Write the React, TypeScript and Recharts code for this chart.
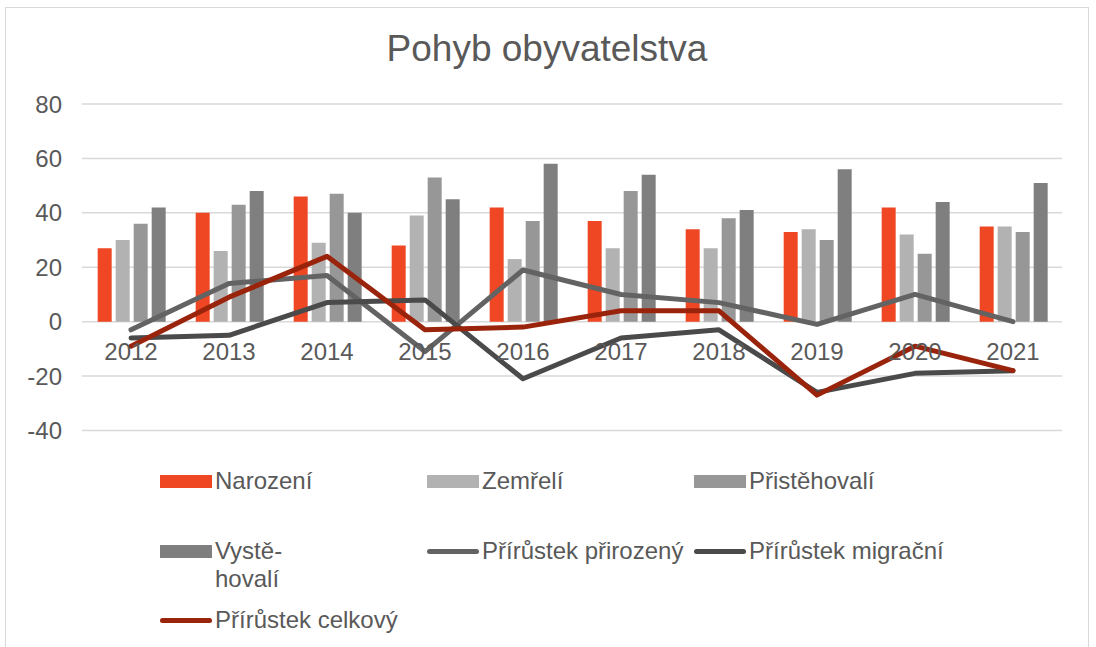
import React from 'react';
import { ComposedChart, Bar, Line, XAxis, YAxis, CartesianGrid } from 'recharts';

const years = ['2012', '2013', '2014', '2015', '2016', '2017', '2018', '2019', '2020', '2021'];
const narozeni = [27, 40, 46, 28, 42, 37, 34, 33, 42, 35];
const zemreli = [30, 26, 29, 39, 23, 27, 27, 34, 32, 35];
const pristehovali = [36, 43, 47, 53, 37, 48, 38, 30, 25, 33];
const vystehovali = [42, 48, 40, 45, 58, 54, 41, 56, 44, 51];
const prirozeny = [-3, 14, 17, -11, 19, 10, 7, -1, 10, 0];
const migracni = [-6, -5, 7, 8, -21, -6, -3, -26, -19, -18];
const celkovy = [-9, 9, 24, -3, -2, 4, 4, -27, -9, -18];
const yTicks = [-40, -20, 0, 20, 40, 60, 80];
const yDomain: [number, number] = [-40, 80];

const data = years.map((y, i) => ({
  year: y,
  narozeni: narozeni[i],
  zemreli: zemreli[i],
  pristehovali: pristehovali[i],
  vystehovali: vystehovali[i],
  prirozeny: prirozeny[i],
  migracni: migracni[i],
  celkovy: celkovy[i],
}));

const FONT = '"Liberation Sans", Arial, sans-serif';
const TEXT = '#595959';
const W = 1096;
const H = 647;
const PLOT_TOP = 104;
const PLOT_BOTTOM = 430.5;
const PLOT_RIGHT = 1062;
const PLOT_LEFT = 82;
const X_AXIS_H = 30;
const ZERO_Y = PLOT_TOP + ((yDomain[1] - 0) / (yDomain[1] - yDomain[0])) * (PLOT_BOTTOM - PLOT_TOP);

const C_NAR = '#EF4723';
const C_ZEM = '#B2B2B2';
const C_PRI = '#979797';
const C_VYS = '#7F7F7F';
const C_PRZ = '#636363';
const C_MIG = '#4A4A4A';
const C_CEL = '#9A230C';

type LegendItem = { lines: string[]; color: string; kind: 'bar' | 'line' };
const legendItems: LegendItem[] = [
  { lines: ['Narození'], color: C_NAR, kind: 'bar' },
  { lines: ['Zemřelí'], color: C_ZEM, kind: 'bar' },
  { lines: ['Přistěhovalí'], color: C_PRI, kind: 'bar' },
  { lines: ['Vystě-', 'hovalí'], color: C_VYS, kind: 'bar' },
  { lines: ['Přírůstek přirozený'], color: C_PRZ, kind: 'line' },
  { lines: ['Přírůstek migrační'], color: C_MIG, kind: 'line' },
  { lines: ['Přírůstek celkový'], color: C_CEL, kind: 'line' },
];

const XTick = (props: any) => {
  const { x, payload } = props;
  return (
    <text x={x} y={ZERO_Y + 38.5} textAnchor="middle" fill={TEXT} fontSize={24} fontFamily={FONT}>
      {payload.value}
    </text>
  );
};

const Legend = () => (
  <div
    style={{
      position: 'absolute',
      left: 160,
      top: 467,
      display: 'grid',
      gridTemplateColumns: '267px 267px 267px',
      gridAutoRows: '69.5px',
      fontFamily: FONT,
      fontSize: 24,
      lineHeight: '28px',
      color: TEXT,
    }}
  >
    {legendItems.map((it, i) => (
      <div key={i} style={{ display: 'flex', alignItems: 'flex-start' }}>
        <div style={{ width: 52, height: 28, position: 'relative', marginRight: 3, flex: 'none' }}>
          {it.kind === 'bar' ? (
            <div style={{ position: 'absolute', left: 0, top: 8, width: 52, height: 13, background: it.color }} />
          ) : (
            <div
              style={{
                position: 'absolute',
                left: 0,
                top: 12,
                width: 52,
                height: 5,
                borderRadius: 3,
                background: it.color,
              }}
            />
          )}
        </div>
        <div>
          {it.lines.map((l, j) => (
            <div key={j} style={{ whiteSpace: 'nowrap' }}>{l}</div>
          ))}
        </div>
      </div>
    ))}
  </div>
);

export default function App() {
  return (
    <div style={{ position: 'absolute', left: 0, top: 0, width: W, height: H, overflow: 'hidden', background: '#fff' }}>
      <div
        style={{
          position: 'absolute',
          left: 5,
          top: 7,
          width: 1084,
          height: 700,
          border: '1.5px solid #d9d9d9',
          boxSizing: 'border-box',
        }}
      />
      <div
        style={{
          position: 'absolute',
          left: 0,
          width: W - 2,
          top: 26,
          textAlign: 'center',
          fontFamily: FONT,
          fontSize: 37,
          lineHeight: '45px',
          color: TEXT,
        }}
      >
        Pohyb obyvatelstva
      </div>
      <div style={{ position: 'absolute', left: 0, top: 0 }}>
        <ComposedChart
          width={W}
          height={H}
          data={data}
          margin={{ top: PLOT_TOP, right: W - PLOT_RIGHT, left: 0, bottom: H - PLOT_BOTTOM - X_AXIS_H }}
          barCategoryGap="16%"
          barGap={4}
        >
          <CartesianGrid horizontal vertical={false} stroke="#d9d9d9" strokeWidth={1.5} />
          <XAxis dataKey="year" height={X_AXIS_H} axisLine={false} tickLine={false} tick={<XTick />} interval={0} />
          <YAxis
            width={PLOT_LEFT}
            domain={yDomain}
            ticks={yTicks}
            axisLine={false}
            tickLine={false}
            tickSize={6}
            tickMargin={14}
            tick={{ fill: TEXT, fontSize: 24, fontFamily: FONT }}
          />
          <Bar dataKey="narozeni" fill={C_NAR} isAnimationActive={false} />
          <Bar dataKey="zemreli" fill={C_ZEM} isAnimationActive={false} />
          <Bar dataKey="pristehovali" fill={C_PRI} isAnimationActive={false} />
          <Bar dataKey="vystehovali" fill={C_VYS} isAnimationActive={false} />
          <Line dataKey="prirozeny" stroke={C_PRZ} strokeWidth={5} dot={false} strokeLinecap="round" strokeLinejoin="round" isAnimationActive={false} />
          <Line dataKey="migracni" stroke={C_MIG} strokeWidth={5} dot={false} strokeLinecap="round" strokeLinejoin="round" isAnimationActive={false} />
          <Line dataKey="celkovy" stroke={C_CEL} strokeWidth={5} dot={false} strokeLinecap="round" strokeLinejoin="round" isAnimationActive={false} />
        </ComposedChart>
      </div>
      <Legend />
    </div>
  );
}
